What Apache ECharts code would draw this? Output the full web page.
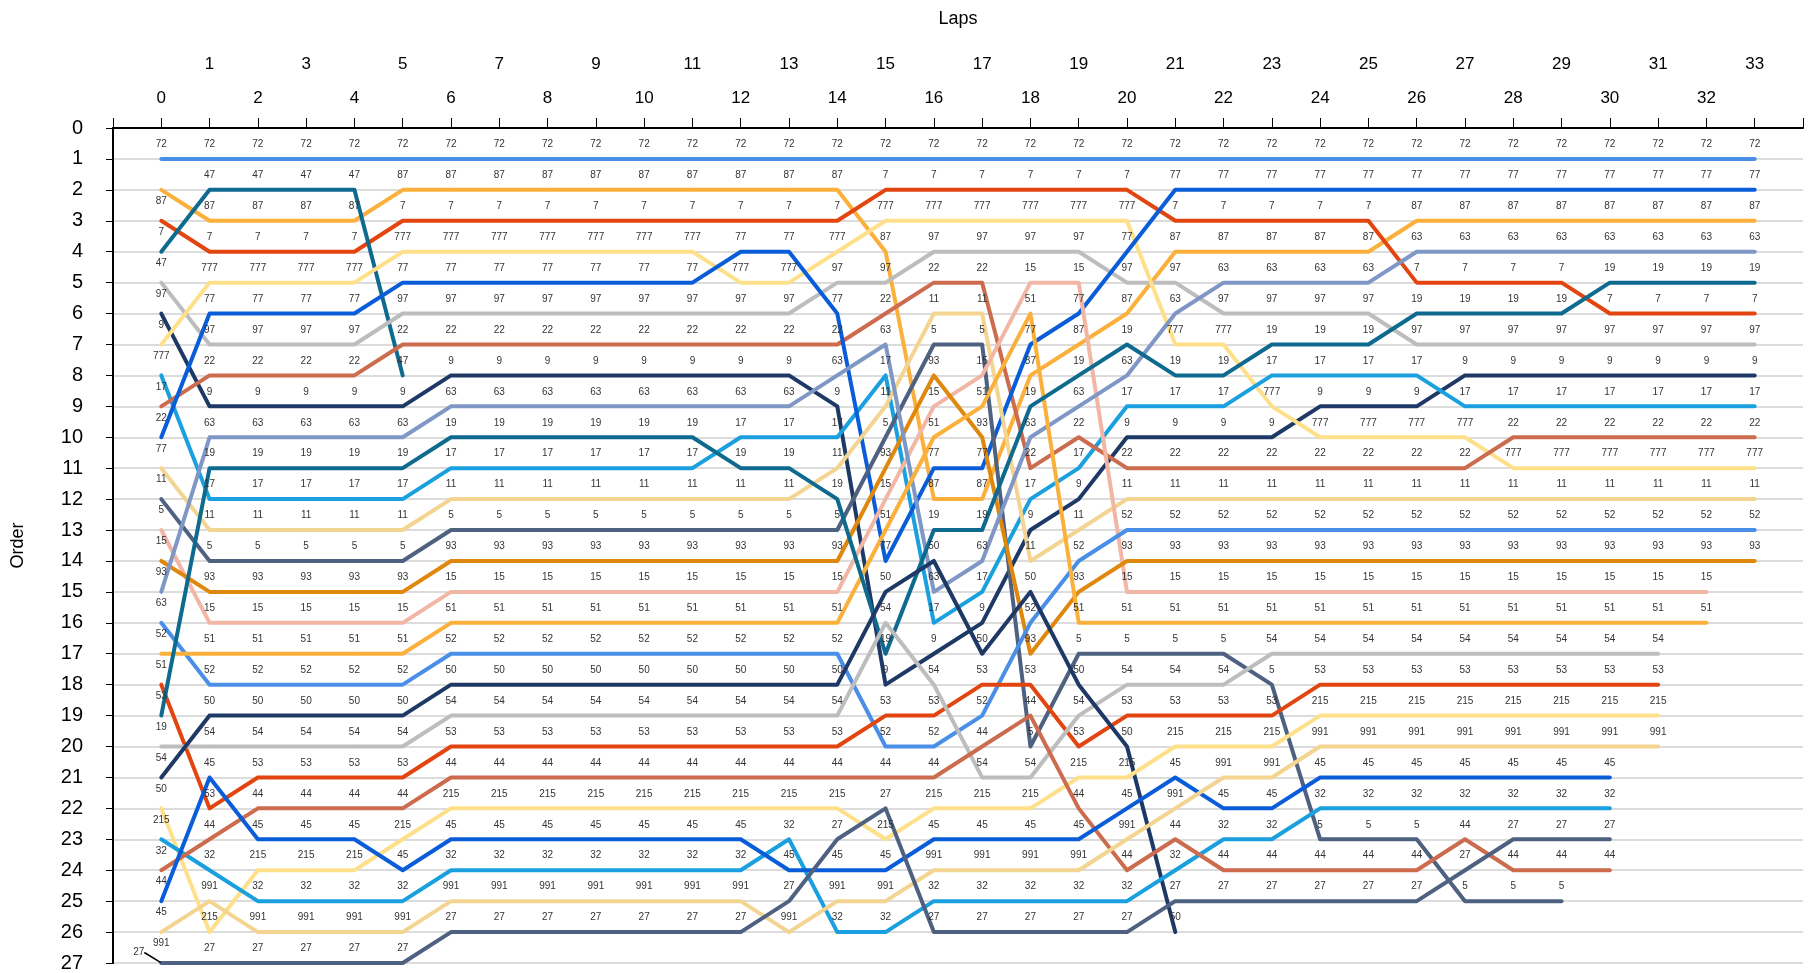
<!DOCTYPE html>
<html>
<head>
<meta charset="utf-8">
<script src="https://cdn.jsdelivr.net/npm/echarts@6/dist/echarts.min.js"></script>
<style>
html,body{margin:0;padding:0;background:#fff;}
#chart{width:1811px;height:973px;}
</style>
</head>
<body>
<div id="chart"></div>
<script>
// Running order (position 1 first) after each lap
const lap00 = [72, 87, 7, 47, 97, 9, 777, 17, 22, 77, 11, 5, 15, 93, 63, 52, 51, 53, 19, 54, 50, 215, 32, 44, 45, 991, 27];
const lap01 = [72, 47, 87, 7, 777, 77, 97, 22, 9, 63, 19, 17, 11, 5, 93, 15, 51, 52, 50, 54, 45, 53, 44, 32, 991, 215, 27];
const lap02 = [72, 47, 87, 7, 777, 77, 97, 22, 9, 63, 19, 17, 11, 5, 93, 15, 51, 52, 50, 54, 53, 44, 45, 215, 32, 991, 27];
const lap03 = [72, 47, 87, 7, 777, 77, 97, 22, 9, 63, 19, 17, 11, 5, 93, 15, 51, 52, 50, 54, 53, 44, 45, 215, 32, 991, 27];
const lap04 = [72, 47, 87, 7, 777, 77, 97, 22, 9, 63, 19, 17, 11, 5, 93, 15, 51, 52, 50, 54, 53, 44, 45, 215, 32, 991, 27];
const lap05 = [72, 87, 7, 777, 77, 97, 22, 47, 9, 63, 19, 17, 11, 5, 93, 15, 51, 52, 50, 54, 53, 44, 215, 45, 32, 991, 27];
const lap06 = [72, 87, 7, 777, 77, 97, 22, 9, 63, 19, 17, 11, 5, 93, 15, 51, 52, 50, 54, 53, 44, 215, 45, 32, 991, 27];
const lap07 = [72, 87, 7, 777, 77, 97, 22, 9, 63, 19, 17, 11, 5, 93, 15, 51, 52, 50, 54, 53, 44, 215, 45, 32, 991, 27];
const lap08 = [72, 87, 7, 777, 77, 97, 22, 9, 63, 19, 17, 11, 5, 93, 15, 51, 52, 50, 54, 53, 44, 215, 45, 32, 991, 27];
const lap09 = [72, 87, 7, 777, 77, 97, 22, 9, 63, 19, 17, 11, 5, 93, 15, 51, 52, 50, 54, 53, 44, 215, 45, 32, 991, 27];
const lap10 = [72, 87, 7, 777, 77, 97, 22, 9, 63, 19, 17, 11, 5, 93, 15, 51, 52, 50, 54, 53, 44, 215, 45, 32, 991, 27];
const lap11 = [72, 87, 7, 777, 77, 97, 22, 9, 63, 19, 17, 11, 5, 93, 15, 51, 52, 50, 54, 53, 44, 215, 45, 32, 991, 27];
const lap12 = [72, 87, 7, 77, 777, 97, 22, 9, 63, 17, 19, 11, 5, 93, 15, 51, 52, 50, 54, 53, 44, 215, 45, 32, 991, 27];
const lap13 = [72, 87, 7, 77, 777, 97, 22, 9, 63, 17, 19, 11, 5, 93, 15, 51, 52, 50, 54, 53, 44, 215, 32, 45, 27, 991];
const lap14 = [72, 87, 7, 777, 97, 77, 22, 63, 9, 17, 11, 19, 5, 93, 15, 51, 52, 50, 54, 53, 44, 215, 27, 45, 991, 32];
const lap15 = [72, 7, 777, 87, 97, 22, 63, 17, 11, 5, 93, 15, 51, 77, 50, 54, 19, 9, 53, 52, 44, 27, 215, 45, 991, 32];
const lap16 = [72, 7, 777, 97, 22, 11, 5, 93, 15, 51, 77, 87, 19, 50, 63, 17, 9, 54, 53, 52, 44, 215, 45, 991, 32, 27];
const lap17 = [72, 7, 777, 97, 22, 11, 5, 15, 51, 93, 77, 87, 19, 63, 17, 9, 50, 53, 52, 44, 54, 215, 45, 991, 32, 27];
const lap18 = [72, 7, 777, 97, 15, 51, 77, 87, 19, 63, 22, 17, 9, 11, 50, 52, 93, 53, 44, 5, 54, 215, 45, 991, 32, 27];
const lap19 = [72, 7, 777, 97, 15, 77, 87, 19, 63, 22, 17, 9, 11, 52, 93, 51, 5, 50, 54, 53, 215, 44, 45, 991, 32, 27];
const lap20 = [72, 7, 777, 77, 97, 87, 19, 63, 17, 9, 22, 11, 52, 93, 15, 51, 5, 54, 53, 50, 215, 45, 991, 44, 32, 27];
const lap21 = [72, 77, 7, 87, 97, 63, 777, 19, 17, 9, 22, 11, 52, 93, 15, 51, 5, 54, 53, 215, 45, 991, 44, 32, 27, 50];
const lap22 = [72, 77, 7, 87, 63, 97, 777, 19, 17, 9, 22, 11, 52, 93, 15, 51, 5, 54, 53, 215, 991, 45, 32, 44, 27];
const lap23 = [72, 77, 7, 87, 63, 97, 19, 17, 777, 9, 22, 11, 52, 93, 15, 51, 54, 5, 53, 215, 991, 45, 32, 44, 27];
const lap24 = [72, 77, 7, 87, 63, 97, 19, 17, 9, 777, 22, 11, 52, 93, 15, 51, 54, 53, 215, 991, 45, 32, 5, 44, 27];
const lap25 = [72, 77, 7, 87, 63, 97, 19, 17, 9, 777, 22, 11, 52, 93, 15, 51, 54, 53, 215, 991, 45, 32, 5, 44, 27];
const lap26 = [72, 77, 87, 63, 7, 19, 97, 17, 9, 777, 22, 11, 52, 93, 15, 51, 54, 53, 215, 991, 45, 32, 5, 44, 27];
const lap27 = [72, 77, 87, 63, 7, 19, 97, 9, 17, 777, 22, 11, 52, 93, 15, 51, 54, 53, 215, 991, 45, 32, 44, 27, 5];
const lap28 = [72, 77, 87, 63, 7, 19, 97, 9, 17, 22, 777, 11, 52, 93, 15, 51, 54, 53, 215, 991, 45, 32, 27, 44, 5];
const lap29 = [72, 77, 87, 63, 7, 19, 97, 9, 17, 22, 777, 11, 52, 93, 15, 51, 54, 53, 215, 991, 45, 32, 27, 44, 5];
const lap30 = [72, 77, 87, 63, 19, 7, 97, 9, 17, 22, 777, 11, 52, 93, 15, 51, 54, 53, 215, 991, 45, 32, 27, 44];
const lap31 = [72, 77, 87, 63, 19, 7, 97, 9, 17, 22, 777, 11, 52, 93, 15, 51, 54, 53, 215, 991];
const lap32 = [72, 77, 87, 63, 19, 7, 97, 9, 17, 22, 777, 11, 52, 93, 15, 51];
const lap33 = [72, 77, 87, 63, 19, 7, 97, 9, 17, 22, 777, 11, 52, 93];

const laps = [lap00, lap01, lap02, lap03, lap04, lap05, lap06, lap07, lap08, lap09,
  lap10, lap11, lap12, lap13, lap14, lap15, lap16, lap17, lap18, lap19,
  lap20, lap21, lap22, lap23, lap24, lap25, lap26, lap27, lap28, lap29,
  lap30, lap31, lap32, lap33];

// Drivers in starting order (colour assignment follows this order)
const drivers = lap00.slice();
const lastPosition = 27;

const palette = ['#4a8fe7', '#fbb03b', '#e2450f', '#0e6a8e', '#bdbdbd', '#1e3966',
  '#ffe08a', '#1aa0df', '#cc6b4e', '#0a5dd8', '#f3d490', '#4f6180',
  '#f2b6a5', '#e0870e', '#7f97c5'];

const series = drivers.map(function (d, i) {
  const data = [];
  laps.forEach(function (order, lap) {
    const p = order.indexOf(d);
    if (p < 0) return;
    const item = { value: [lap, p + 1] };
    if (lap === 0 && p > 0 && p + 1 < lastPosition) {
      item.label = { position: 'bottom', distance: 6 };
    }
    if (lap === 0 && p + 1 === lastPosition) {
      item.labelLine = { show: true };
    }
    data.push(item);
  });
  return {
    name: String(d),
    type: 'line',
    xAxisIndex: 0,
    yAxisIndex: 0,
    data: data,
    symbol: 'circle',
    symbolSize: 1,
    showSymbol: true,
    showAllSymbol: true,
    color: palette[i % palette.length],
    lineStyle: { width: 4, cap: 'round', join: 'round' },
    emphasis: { disabled: true },
    label: {
      show: true,
      position: 'top',
      distance: 9,
      fontSize: 10,
      color: '#333',
      formatter: function () { return String(d); }
    },
    labelLine: { show: false, lineStyle: { color: '#000', width: 1.5 } },
    labelLayout: function (params) {
      const v = data[params.dataIndex] && data[params.dataIndex].value;
      if (v && v[0] === 0 && v[1] === lastPosition) {
        return { x: params.rect.x - 22, y: params.rect.y - 10, align: 'center', verticalAlign: 'middle' };
      }
    }
  };
});

const chart = echarts.init(document.getElementById('chart'), null, { renderer: 'canvas' });
chart.setOption({
  animation: false,
  backgroundColor: '#fff',
  textStyle: { fontFamily: 'Liberation Sans, Arial, sans-serif' },
  grid: { left: 113, right: 8, top: 128, bottom: 9, containLabel: false },
  xAxis: [
    {
      type: 'value', position: 'top', min: -1, max: 34, interval: 1,
      name: 'Laps', nameLocation: 'middle', nameGap: 100,
      nameTextStyle: { fontSize: 18, color: '#000' },
      axisLine: { show: true, onZero: false, lineStyle: { color: '#000', width: 2 } },
      axisTick: { show: true, length: 10, lineStyle: { color: '#000', width: 1 } },
      axisLabel: {
        fontSize: 17, color: '#000', margin: 21,
        formatter: function (v) { return (v >= 0 && v <= 33 && v % 2 === 0) ? String(v) : ''; }
      },
      splitLine: { show: false }
    },
    {
      type: 'value', position: 'top', min: -1, max: 34, interval: 1,
      axisLine: { show: false, onZero: false },
      axisTick: { show: false },
      axisLabel: {
        fontSize: 17, color: '#000', margin: 55,
        formatter: function (v) { return (v >= 0 && v <= 33 && v % 2 === 1) ? String(v) : ''; }
      },
      splitLine: { show: false }
    }
  ],
  yAxis: {
    type: 'value', min: 0, max: 27, interval: 1, inverse: true,
    name: 'Order', nameLocation: 'middle', nameGap: 86,
    nameTextStyle: { fontSize: 18, color: '#000' },
    axisLine: { show: true, onZero: false, lineStyle: { color: '#000', width: 2 } },
    axisTick: { show: true, length: 7, lineStyle: { color: '#000', width: 1 } },
    axisLabel: { fontSize: 20, color: '#000', margin: 30 },
    splitLine: { show: true, lineStyle: { color: '#dcdcdc', width: 2 } }
  },
  series: series
});
</script>
</body>
</html>
